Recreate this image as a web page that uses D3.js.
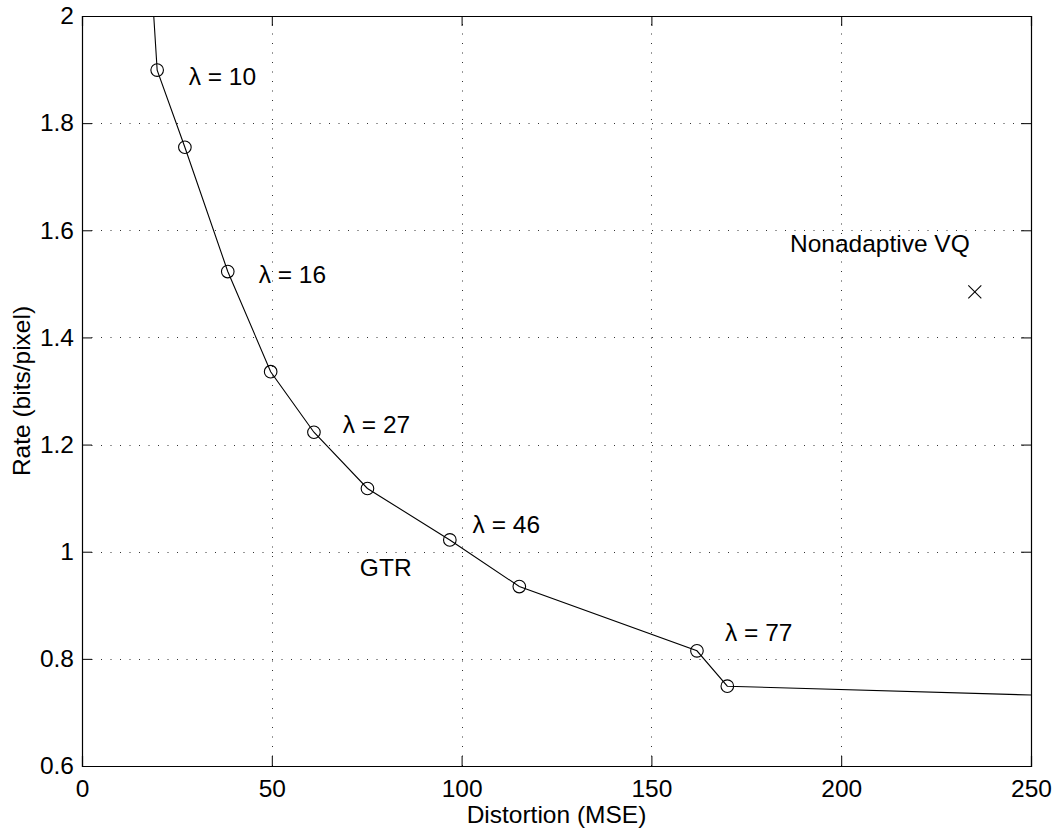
<!DOCTYPE html>
<html>
<head>
<meta charset="utf-8">
<script src="https://cdn.jsdelivr.net/npm/d3@7"></script>
<style>
  html, body { margin: 0; padding: 0; background: #fff; }
  svg { display: block; }
  text { font-family: "Liberation Sans", Arial, Helvetica, sans-serif; fill: #000; }
</style>
</head>
<body>
<script>
// ---- data ----
const gtrDistortion = [19.8, 27.1, 38.4, 49.7, 61.1, 75.2, 96.9, 115.2, 162.0, 170.0];
const gtrRate       = [1.899, 1.755, 1.523, 1.336, 1.223, 1.118, 1.022, 0.935, 0.815, 0.749];
const curveStart = [18.9, 2.0];
const curveEnd   = [250, 0.7325];
const vqDistortion = [235.2];
const vqRate       = [1.485];
const xTicks = [0, 50, 100, 150, 200, 250];
const yTicks = [0.6, 0.8, 1, 1.2, 1.4, 1.6, 1.8, 2];
const annLabels = ["λ = 10", "λ = 16", "λ = 27", "λ = 46", "GTR", "λ = 77", "Nonadaptive VQ"];
const annX      = [28.1, 46.55, 68.7, 102.9, 73.2, 169.4, 186.5];
const annY      = [1.871, 1.502, 1.222, 1.035, 0.955, 0.834, 1.559];
const xLabel = "Distortion (MSE)";
const yLabel = "Rate (bits/pixel)";

// ---- layout ----
const W = 1058, H = 834;
const L = 82, R = 1031, T = 16, B = 766;
const fs = 24.5;

const x = d3.scaleLinear().domain([0, 250]).range([L, R]);
const y = d3.scaleLinear().domain([0.6, 2]).range([B, T]);

const svg = d3.select("body").append("svg").attr("width", W).attr("height", H);
svg.append("rect").attr("width", W).attr("height", H).attr("fill", "#fff");

svg.append("defs").append("clipPath").attr("id", "clip")
  .append("rect").attr("x", L).attr("y", T).attr("width", R - L).attr("height", B - T);

// grid
const grid = svg.append("g").attr("stroke", "#333").attr("stroke-width", 1)
  .attr("stroke-dasharray", "1,8.5");
grid.selectAll("line.gx").data(xTicks.slice(1, -1)).enter().append("line")
  .attr("x1", d => Math.round(x(d)) + 0.5).attr("x2", d => Math.round(x(d)) + 0.5)
  .attr("y1", B).attr("y2", T);
grid.selectAll("line.gy").data(yTicks.slice(1, -1)).enter().append("line")
  .attr("x1", L).attr("x2", R)
  .attr("y1", d => Math.round(y(d)) + 0.5).attr("y2", d => Math.round(y(d)) + 0.5);

// axes with inward ticks on all four sides
const tickLen = 10;
const fmt = d => String(d);
const axB = svg.append("g").attr("transform", `translate(0,${B})`)
  .call(d3.axisBottom(x).tickValues(xTicks).tickSize(-tickLen).tickPadding(14).tickFormat(fmt));
const axT = svg.append("g").attr("transform", `translate(0,${T})`)
  .call(d3.axisTop(x).tickValues(xTicks).tickSize(-tickLen).tickFormat(""));
const axL = svg.append("g").attr("transform", `translate(${L},0)`)
  .call(d3.axisLeft(y).tickValues(yTicks).tickSize(-tickLen).tickPadding(8).tickFormat(fmt));
const axR = svg.append("g").attr("transform", `translate(${R},0)`)
  .call(d3.axisRight(y).tickValues(yTicks).tickSize(-tickLen).tickFormat(""));
[axB, axT, axL, axR].forEach(a => {
  a.select(".domain").attr("stroke", "#000").attr("stroke-width", 1.2);
  a.selectAll(".tick line").attr("stroke", "#000").attr("stroke-width", 1);
  a.selectAll(".tick text").attr("font-size", fs)
    .attr("font-family", '"Liberation Sans", Arial, Helvetica, sans-serif').attr("fill", "#000");
});
axB.selectAll(".tick text").attr("dy", "0.71em");

// curve
const pts = [curveStart].concat(gtrDistortion.map((d, i) => [d, gtrRate[i]])).concat([curveEnd]);
svg.append("path").attr("clip-path", "url(#clip)")
  .datum(pts)
  .attr("d", d3.line().x(d => x(d[0])).y(d => y(d[1])))
  .attr("fill", "none").attr("stroke", "#000").attr("stroke-width", 1.1);

// circle markers
svg.append("g").selectAll("circle").data(gtrDistortion).enter().append("circle")
  .attr("cx", d => x(d)).attr("cy", (d, i) => y(gtrRate[i])).attr("r", 6.3)
  .attr("fill", "none").attr("stroke", "#000").attr("stroke-width", 1.1);

// x marker
const xm = 6.5;
const vq = svg.append("g").selectAll("g").data(vqDistortion).enter().append("g");
vq.append("line").attr("x1", d => x(d) - xm).attr("x2", d => x(d) + xm)
  .attr("y1", (d, i) => y(vqRate[i]) - xm).attr("y2", (d, i) => y(vqRate[i]) + xm)
  .attr("stroke", "#000").attr("stroke-width", 1.1);
vq.append("line").attr("x1", d => x(d) - xm).attr("x2", d => x(d) + xm)
  .attr("y1", (d, i) => y(vqRate[i]) + xm).attr("y2", (d, i) => y(vqRate[i]) - xm)
  .attr("stroke", "#000").attr("stroke-width", 1.1);

// annotations
svg.append("g").selectAll("text").data(annLabels).enter().append("text")
  .attr("x", (d, i) => x(annX[i])).attr("y", (d, i) => y(annY[i]))
  .attr("font-size", fs).text(d => d);

// axis labels
svg.append("text").attr("x", (L + R) / 2).attr("y", 823)
  .attr("text-anchor", "middle").attr("font-size", fs).text(xLabel);
svg.append("text").attr("transform", `translate(30,${(T + B) / 2}) rotate(-90)`)
  .attr("text-anchor", "middle").attr("font-size", fs).text(yLabel);
</script>
</body>
</html>
